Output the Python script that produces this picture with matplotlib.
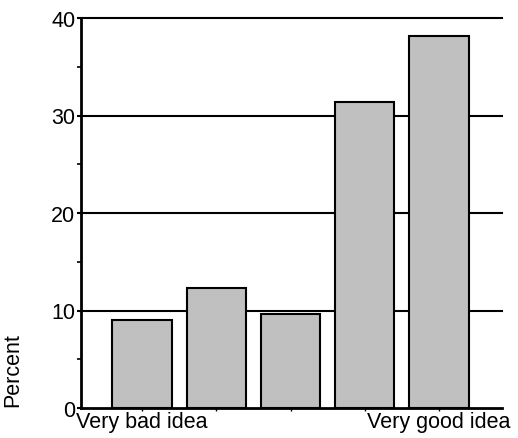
import matplotlib
matplotlib.use("Agg")
import matplotlib.pyplot as plt
from matplotlib.ticker import MultipleLocator

categories = ["Very bad idea", "", "", "", "Very good idea"]
values = [9.0, 12.3, 9.6, 31.4, 38.2]
yticks = [0, 10, 20, 30, 40]

plt.rcParams['font.family'] = ['Liberation Sans', 'DejaVu Sans']
FS = 15.5

fig = plt.figure(figsize=(5.18, 4.39), dpi=100)
ax = fig.add_axes([81/518, 1 - 409/439, (502-81)/518, (409-19)/439])

x = list(range(1, len(values) + 1))
ax.set_axisbelow(True)
for yv in yticks[1:]:
    ax.axhline(yv, color='black', linewidth=1.5, zorder=0, clip_on=False)
ax.bar(x, values, width=0.8, color='#c0c0c0', edgecolor='black', linewidth=1.5, zorder=2)

ax.set_xlim(0.176, 5.85)
ax.set_ylim(0, 40)
ax.set_xticks(x)
ax.set_xticklabels(categories, fontsize=FS)
ax.set_yticks(yticks)
ax.set_yticklabels([str(v) for v in yticks], fontsize=FS)
ax.yaxis.set_minor_locator(MultipleLocator(5))
ax.tick_params(axis='y', which='major', length=3, width=1.5, pad=1, direction='out')
ax.tick_params(axis='y', which='minor', length=3, width=1.2, direction='out')
ax.tick_params(axis='x', which='major', length=2, width=1, pad=0, direction='out')

for s in ['top', 'right']:
    ax.spines[s].set_visible(False)
for s in ['left', 'bottom']:
    ax.spines[s].set_linewidth(2)

ax.set_ylabel("Percent", fontsize=FS)
ax.yaxis.set_label_coords(-0.138, 0.1)

fig.savefig("out.png", dpi=100)
